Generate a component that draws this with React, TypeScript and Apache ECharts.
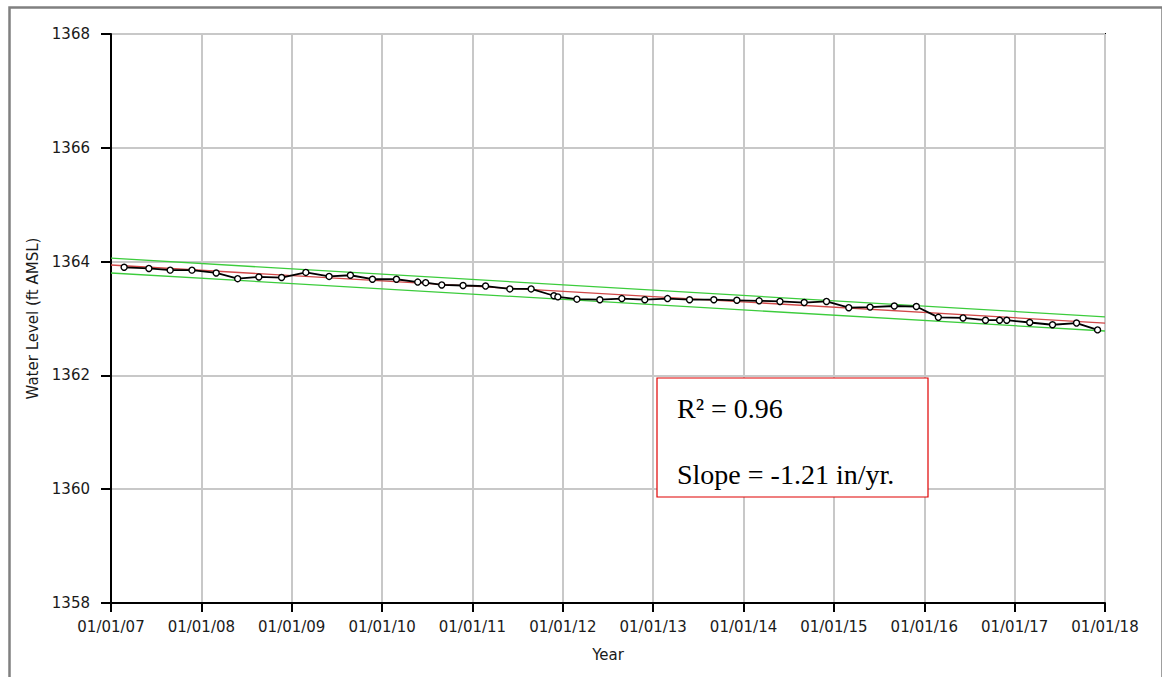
import React, { useEffect, useRef } from "react";
import * as echarts from "echarts";

const sampleDates = [
  "2007-02-23", "2007-06-03", "2007-08-28", "2007-11-24",
  "2008-03-01", "2008-05-27", "2008-08-21", "2008-11-21",
  "2009-02-27", "2009-06-01", "2009-08-26", "2009-11-23",
  "2010-02-28", "2010-05-25", "2010-06-26", "2010-08-30", "2010-11-24",
  "2011-02-23", "2011-06-01", "2011-08-26", "2011-11-26", "2011-12-12",
  "2012-02-27", "2012-05-30", "2012-08-27", "2012-11-28",
  "2013-02-28", "2013-05-28", "2013-09-03", "2013-12-05",
  "2014-03-05", "2014-05-28", "2014-09-03", "2014-12-02",
  "2015-03-02", "2015-05-27", "2015-09-02", "2015-11-30",
  "2016-02-27", "2016-06-06", "2016-09-05", "2016-11-01", "2016-11-30",
  "2017-03-03", "2017-06-03", "2017-09-08", "2017-12-02",
];

const waterLevels = [
  1363.9, 1363.88, 1363.85, 1363.85,
  1363.8, 1363.7, 1363.73, 1363.72,
  1363.81, 1363.74, 1363.76, 1363.69,
  1363.69, 1363.64, 1363.63, 1363.59, 1363.58,
  1363.57, 1363.52, 1363.52, 1363.4, 1363.38,
  1363.34, 1363.33, 1363.35, 1363.33,
  1363.35, 1363.33, 1363.33, 1363.32,
  1363.31, 1363.3, 1363.28, 1363.3,
  1363.19, 1363.2, 1363.22, 1363.21,
  1363.02, 1363.01, 1362.97, 1362.97, 1362.97,
  1362.93, 1362.89, 1362.92, 1362.8,
];

const lineYears = [2007, 2018];
const trendFit = [1363.94, 1362.92];
const upperBand = [1364.06, 1363.03];
const lowerBand = [1363.8, 1362.78];

const rSquaredText = "R² = 0.96";
const slopeText = "Slope = -1.21 in/yr.";

function toDecimalYear(s: string): number {
  const d = new Date(s + "T00:00:00Z");
  const y = d.getUTCFullYear();
  const start = Date.UTC(y, 0, 1);
  const end = Date.UTC(y + 1, 0, 1);
  return y + (d.getTime() - start) / (end - start);
}

const FONT = "DejaVu Sans";
const TEXT = "#1a1a1a";

export default function App() {
  const ref = useRef<HTMLDivElement>(null);

  useEffect(() => {
    if (!ref.current) return;
    const chart = echarts.init(ref.current, null, { renderer: "svg" });
    const series = sampleDates.map((d, i) => [toDecimalYear(d), waterLevels[i]]);
    const pairs = (vals: number[]) => lineYears.map((x, i) => [x, vals[i]]);

    chart.setOption({
      animation: false,
      backgroundColor: "#fff",
      grid: {
        left: 111,
        top: 34,
        right: 57,
        bottom: 74,
        show: true,
        borderColor: "#000",
        borderWidth: 2,
        backgroundColor: "transparent",
      },
      xAxis: {
        type: "value",
        min: 2007,
        max: 2018,
        interval: 1,
        name: "Year",
        nameLocation: "middle",
        nameGap: 44,
        nameTextStyle: { fontFamily: FONT, fontSize: 15, color: TEXT },
        axisLine: { show: true, lineStyle: { color: "#000", width: 2 } },
        axisTick: { show: true, length: 9, lineStyle: { color: "#000", width: 2 } },
        axisLabel: {
          fontFamily: FONT,
          fontSize: 15,
          color: TEXT,
          margin: 16,
          formatter: (v: number) => "01/01/" + String(Math.round(v)).slice(2),
        },
        splitLine: { show: true, lineStyle: { color: "#c8c8c8", width: 2 } },
      },
      yAxis: {
        type: "value",
        min: 1358,
        max: 1368,
        interval: 2,
        name: "Water Level (ft AMSL)",
        nameLocation: "middle",
        nameGap: 70,
        nameRotate: 90,
        nameTextStyle: { fontFamily: FONT, fontSize: 15, color: TEXT },
        axisLine: { show: true, lineStyle: { color: "#000", width: 2 } },
        axisTick: { show: true, length: 10, lineStyle: { color: "#000", width: 2 } },
        axisLabel: {
          fontFamily: FONT,
          fontSize: 15,
          color: TEXT,
          margin: 21,
          formatter: (v: number) => String(v),
        },
        splitLine: { show: true, lineStyle: { color: "#c8c8c8", width: 2 } },
      },
      series: [
        {
          type: "line",
          data: pairs(upperBand),
          symbol: "none",
          lineStyle: { color: "#3ccc3c", width: 1.3 },
          z: 2,
        },
        {
          type: "line",
          data: pairs(lowerBand),
          symbol: "none",
          lineStyle: { color: "#3ccc3c", width: 1.3 },
          z: 2,
        },
        {
          type: "line",
          data: pairs(trendFit),
          symbol: "none",
          lineStyle: { color: "#d04848", width: 1.3 },
          z: 3,
        },
        {
          type: "line",
          data: series,
          symbol: "circle",
          symbolSize: 6,
          lineStyle: { color: "#000", width: 1.8 },
          itemStyle: { color: "#fff", borderColor: "#000", borderWidth: 1.4 },
          z: 4,
        },
      ],
      graphic: [
        {
          type: "rect",
          left: 7,
          top: 5,
          shape: { x: 0, y: 0, width: 1153, height: 700 },
          style: { fill: "none", stroke: "#808080", lineWidth: 2.5 },
          silent: true,
          z: 10,
        },
        {
          type: "rect",
          shape: { x: 657, y: 378, width: 271, height: 119 },
          style: { fill: "#fff", stroke: "#e00000", lineWidth: 1.2 },
          z: 10,
        },
        {
          type: "text",
          x: 677,
          y: 408,
          style: {
            text: rSquaredText,
            font: "28px 'Liberation Serif'",
            fill: "#000",
            verticalAlign: "middle",
          },
          z: 11,
        },
        {
          type: "text",
          x: 677,
          y: 474,
          style: {
            text: slopeText,
            font: "28px 'Liberation Serif'",
            fill: "#000",
            verticalAlign: "middle",
          },
          z: 11,
        },
      ],
    });

    return () => chart.dispose();
  }, []);

  return (
    <div
      ref={ref}
      style={{ position: "absolute", left: 0, top: 0, width: 1162, height: 677 }}
    />
  );
}
